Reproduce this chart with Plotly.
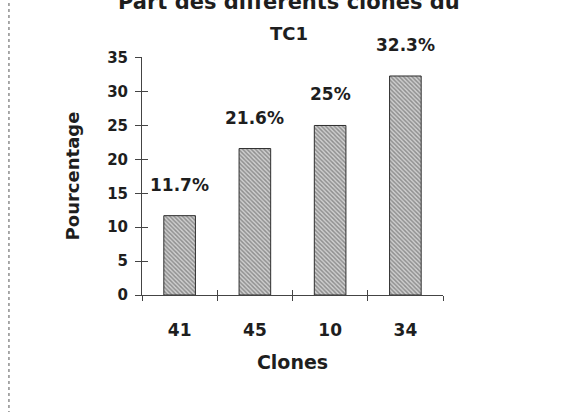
import plotly.graph_objects as go

# Clone distribution data
clones = ["41", "45", "10", "34"]
pourcentages = [11.7, 21.6, 25.0, 32.3]
etiquettes = ["11.7%", "21.6%", "25%", "32.3%"]
y_ticks = [0, 5, 10, 15, 20, 25, 30, 35]

ink = "#1e1e1e"
fam = "DejaVu Sans, Verdana, sans-serif"


def f(size):
    return dict(family=fam, size=size, color=ink, weight="bold")


fig = go.Figure()
fig.add_trace(go.Bar(
    x=clones,
    y=pourcentages,
    width=0.42,
    marker=dict(
        color="#b0b0b0",
        line=dict(color="#2e2e2e", width=1),
        pattern=dict(shape="\\", size=3, solidity=0.5, fgcolor="#505050", bgcolor="#cfcfcf"),
    ),
    showlegend=False,
    hoverinfo="skip",
))

# Second pair of axes to give the ticks a crossing look
fig.add_trace(go.Scatter(x=clones, y=pourcentages, xaxis="x2", yaxis="y2",
                         mode="markers", marker=dict(opacity=0), showlegend=False, hoverinfo="skip"))

# Percentage labels above each bar (x given as category index)
for i, (v, t) in enumerate(zip(pourcentages, etiquettes)):
    fig.add_annotation(x=i, y=v, text=t, showarrow=False, yanchor="bottom",
                       yshift=19, font=f(17))

fig.add_annotation(xref="paper", yref="paper", x=0.487, y=1.232, text="Part des différents clones du",
                   showarrow=False, yanchor="middle", font=f(21))
fig.add_annotation(xref="paper", yref="paper", x=0.49, y=1.097, text="TC1",
                   showarrow=False, yanchor="middle", font=f(18))

# Dotted frame edge on the left of the page
fig.add_shape(type="line", xref="paper", yref="paper", x0=-0.442, x1=-0.442, y0=-0.5, y1=1.3,
              line=dict(color="#555555", width=1, dash="dot"))

axis_common = dict(showgrid=False, zeroline=False, linecolor="#444444", linewidth=1,
                   tickcolor="#444444", ticklen=6, tickwidth=1)

fig.update_layout(
    width=564, height=412,
    margin=dict(l=142, r=121, t=57, b=117),
    paper_bgcolor="white", plot_bgcolor="white",
    xaxis=dict(axis_common, type="category", showline=True, ticks="outside", tickson="boundaries",
               ticklen=5, tickfont=f(17), ticklabelstandoff=20,
               title=dict(text="Clones", font=f(19), standoff=16),
               range=[-0.5, 3.5]),
    yaxis=dict(axis_common, range=[0, 35.1], tickvals=y_ticks, showline=True, ticks="outside",
               tickfont=f(15), ticklabelstandoff=4,
               title=dict(text="Pourcentage", font=f(18), standoff=22)),
    xaxis2=dict(axis_common, type="category", overlaying="x", matches="x", showline=False,
                ticks="inside", tickson="boundaries", ticklen=5, showticklabels=False, anchor="y2"),
    yaxis2=dict(axis_common, overlaying="y", matches="y", tickvals=y_ticks, showline=False,
                ticks="inside", showticklabels=False, anchor="x2"),
)

fig.write_html("out.html")
